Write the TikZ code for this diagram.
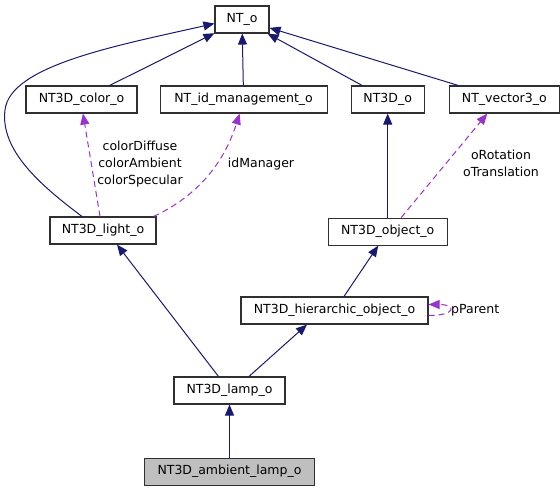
\documentclass[tikz,border=0pt]{standalone}
\usepackage{fontspec}
\setmainfont{DejaVu Sans}
\usepackage{tikz}
\usetikzlibrary{arrows.meta, positioning, calc}
\definecolor{edgeblue}{HTML}{191970}
\definecolor{usepurple}{HTML}{9A32CD}
\definecolor{boxdraw}{HTML}{303030}
\definecolor{curfill}{HTML}{BFBFBF}
\tikzset{
  cls/.style={rectangle, draw=boxdraw, fill=white, line width=1.1pt, font=\fontsize{12.5}{14}\selectfont, minimum height=27pt, inner xsep=3pt, inner ysep=0pt},
  cur/.style={cls, fill=curfill},
  lab/.style={font=\fontsize{12.5}{17}\selectfont, align=center, inner sep=0pt},
  arr/.style={-{Triangle[length=11pt, width=9pt]}, line width=1pt, draw=edgeblue},
  arrdash/.style={-{Triangle[length=11pt, width=9pt]}, line width=1pt, draw=usepurple, dash pattern=on 6pt off 4pt},
}

\begin{document}
\begin{tikzpicture}[x=1pt, y=-1pt]
  \useasboundingbox (0,0) rectangle (560,491);
  % classes
  \node[cls, minimum width=54pt] (nto) at (242,19.5) {NT\_o};
  \node[cls, minimum width=111pt] (color) at (81.5,99.5) {NT3D\_color\_o};
  \node[cls, minimum width=167pt, right=22pt of color] (idmgr) {NT\_id\_management\_o};
  \node[cls, minimum width=73pt, right=23pt of idmgr] (nt3d) {NT3D\_o};
  \node[cls, minimum width=110pt, right=24pt of nt3d] (vec) {NT\_vector3\_o};
  \node[cls, minimum width=106pt] (light) at (103,230.5) {NT3D\_light\_o};
  \node[cls, minimum width=119pt, below=104pt of nt3d] (object) {NT3D\_object\_o};
  \node[cls, minimum width=187pt] (hier) at (334.5,310.5) {NT3D\_hierarchic\_object\_o};
  \node[cls, minimum width=111pt] (lamp) at (229.5,390.5) {NT3D\_lamp\_o};
  \node[cur, minimum width=170pt, below=53pt of lamp] (ambient) {NT3D\_ambient\_lamp\_o};
  % inheritance
  \draw[arr] (color) -- (nto);
  \draw[arr] (idmgr) -- (nto);
  \draw[arr] (nt3d) -- (nto);
  \draw[arr] (vec) -- (nto);
  \draw[arr] ([xshift=-21pt]light.north) .. controls (40,185) and (0,150) .. (5,110)
    .. controls (10,65) and (120,45) .. ([yshift=-4pt]nto.west);
  \draw[arr] (object) -- (nt3d);
  \draw[arr] (hier) -- (object);
  \draw[arr] ([xshift=-11pt]lamp.north) -- ([xshift=14pt]light.south);
  \draw[arr] ([xshift=19.5pt]lamp.north) -- ([xshift=-27.5pt]hier.south);
  \draw[arr] (ambient) -- (lamp);
  % usage
  \draw[arrdash] ([xshift=-3pt]light.north) -- ([xshift=1.5pt]color.south);
  \draw[arrdash] ([xshift=-3pt]light.north east) .. controls (200,195) and (225,160) .. ([xshift=-4pt]idmgr.south);
  \draw[arrdash] ([xshift=13.5pt]object.north) -- ([xshift=-17pt]vec.south);
  \draw[arrdash] ([yshift=-5pt]hier.east) .. controls +(28,0) and +(28,0) .. ([yshift=6pt]hier.east);
  \node[lab] (lcolor) at (140,164) {colorDiffuse\\colorAmbient\\colorSpecular};
  \node[lab] (lid) at (261,164) {idManager};
  \node[lab] (lvec) at (501,163.5) {oRotation\\oTranslation};
  \node[lab, anchor=west] (lpar) at (451,310) {pParent};
\end{tikzpicture}
\end{document}
